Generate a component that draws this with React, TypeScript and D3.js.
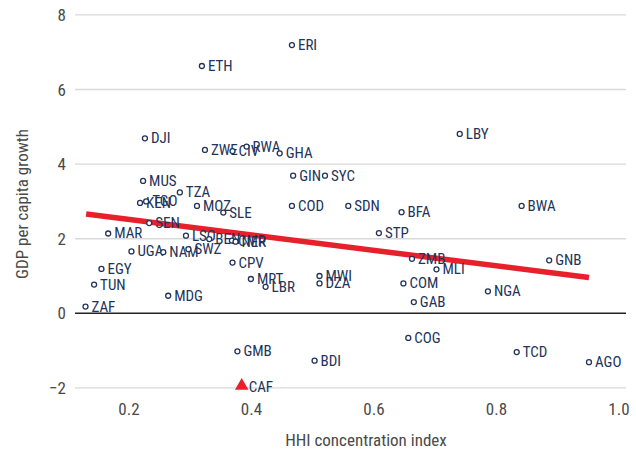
import React from "react";
import * as d3 from "d3";

const countries = [
  "ERI", "ETH", "DJI", "ZWE", "CIV", "RWA", "GHA", "LBY", "MUS", "GIN",
  "SYC", "TZA", "KEN", "TGO", "MOZ", "SLE", "COD", "SDN", "BFA", "BWA",
  "SEN", "STP", "MAR", "LSO", "BEN", "CMR", "NER", "UGA", "NAM", "SWZ",
  "ZMB", "GNB", "EGY", "MLI", "CPV", "TUN", "MRT", "MWI", "COM", "NGA",
  "LBR", "DZA", "ZAF", "MDG", "GAB", "COG", "GMB", "BDI", "TCD", "AGO",
  "CAF",
];
const hhiIndex = [
  0.466, 0.319, 0.226, 0.324, 0.369, 0.392, 0.446, 0.740, 0.223, 0.468,
  0.520, 0.283, 0.218, 0.228, 0.311, 0.354, 0.466, 0.558, 0.645, 0.841,
  0.233, 0.608, 0.166, 0.293, 0.331, 0.368, 0.374, 0.204, 0.256, 0.297,
  0.662, 0.886, 0.155, 0.702, 0.369, 0.143, 0.399, 0.511, 0.648, 0.786,
  0.423, 0.511, 0.129, 0.264, 0.665, 0.656, 0.377, 0.503, 0.833, 0.951,
  0.384,
];
const gdpGrowth = [
  7.19, 6.63, 4.69, 4.38, 4.35, 4.47, 4.29, 4.81, 3.55, 3.69,
  3.69, 3.24, 2.96, 3.0, 2.88, 2.7, 2.88, 2.88, 2.71, 2.88,
  2.42, 2.15, 2.14, 2.08, 1.99, 1.95, 1.92, 1.66, 1.64, 1.72,
  1.46, 1.42, 1.19, 1.18, 1.36, 0.77, 0.92, 1.0, 0.8, 0.59,
  0.71, 0.8, 0.18, 0.47, 0.3, -0.66, -1.02, -1.27, -1.04, -1.31,
  -1.97,
];
const highlighted = ["CAF"];
const trendHHI = [0.13, 0.951];
const trendGrowth = [2.66, 0.96];
const xTicks = [0.2, 0.4, 0.6, 0.8, 1.0];
const yTicks = [-2, 0, 2, 4, 6, 8];

const W = 636;
const H = 455;
const NARROW = "'Liberation Sans Narrow', 'Arial Narrow', 'Roboto Condensed', Roboto, sans-serif";
const NAVY = "#22345a";
const RED = "#e8202c";

export default function App() {
  const x = d3.scaleLinear().domain([0.2, 1.0]).range([129, 619]);
  const y = d3.scaleLinear().domain([0, 8]).range([313.3, 14.9]);
  const plotLeft = 75;
  const plotRight = 626;
  const line = d3
    .line<number>()
    .x((d, i) => x(trendHHI[i]))
    .y((d) => y(d));
  const tri = d3.symbol(d3.symbolTriangle, 80)() as string;

  return (
    <svg
      width={W}
      height={H}
      style={{ position: "absolute", left: 0, top: 0, background: "#fff" }}
    >
      {yTicks.map((t) => (
        <line
          key={"g" + t}
          x1={plotLeft}
          x2={plotRight}
          y1={y(t)}
          y2={y(t)}
          stroke={t === 0 ? "#222" : "#d9d9d9"}
          strokeWidth={t === 0 ? 1.6 : 1.4}
        />
      ))}
      {yTicks.map((t) => (
        <text
          key={"yl" + t}
          x={66}
          y={y(t)}
          textAnchor="end"
          dominantBaseline="central"
          fontFamily={NARROW}
          fontSize={17}
          fill="#4a4a4a"
        >
          {t < 0 ? "\u2212" + Math.abs(t) : String(t)}
        </text>
      ))}
      {xTicks.map((t) => (
        <text
          key={"xl" + t}
          x={x(t)}
          y={415}
          textAnchor="middle"
          fontFamily={NARROW}
          fontSize={17}
          fill="#4a4a4a"
        >
          {t.toFixed(1)}
        </text>
      ))}
      <text
        x={366}
        y={446}
        textAnchor="middle"
        fontFamily={NARROW}
        fontSize={17}
        fill="#4a4a4a"
      >
        HHI concentration index
      </text>
      <text
        transform={`translate(22,204) rotate(-90)`}
        textAnchor="middle"
        dominantBaseline="central"
        fontFamily={NARROW}
        fontSize={17}
        fill="#4a4a4a"
      >
        GDP per capita growth
      </text>
      <path
        d={line(trendGrowth) as string}
        stroke={RED}
        strokeWidth={5.5}
        fill="none"
      />
      {countries.map((c, i) => {
        const cx = x(hhiIndex[i]);
        const cy = y(gdpGrowth[i]);
        const hl = highlighted.includes(c);
        return (
          <g key={c}>
            {hl ? (
              <path d={tri} transform={`translate(${cx},${cy - 1})`} fill={RED} />
            ) : (
              <circle
                cx={cx}
                cy={cy}
                r={2.5}
                fill="#fff"
                stroke={NAVY}
                strokeWidth={1.3}
              />
            )}
            <text
              x={cx + (hl ? 7 : 6)}
              y={cy}
              dominantBaseline="central"
              fontFamily={NARROW}
              fontSize={15}
              fill={NAVY}
            >
              {c}
            </text>
          </g>
        );
      })}
    </svg>
  );
}
